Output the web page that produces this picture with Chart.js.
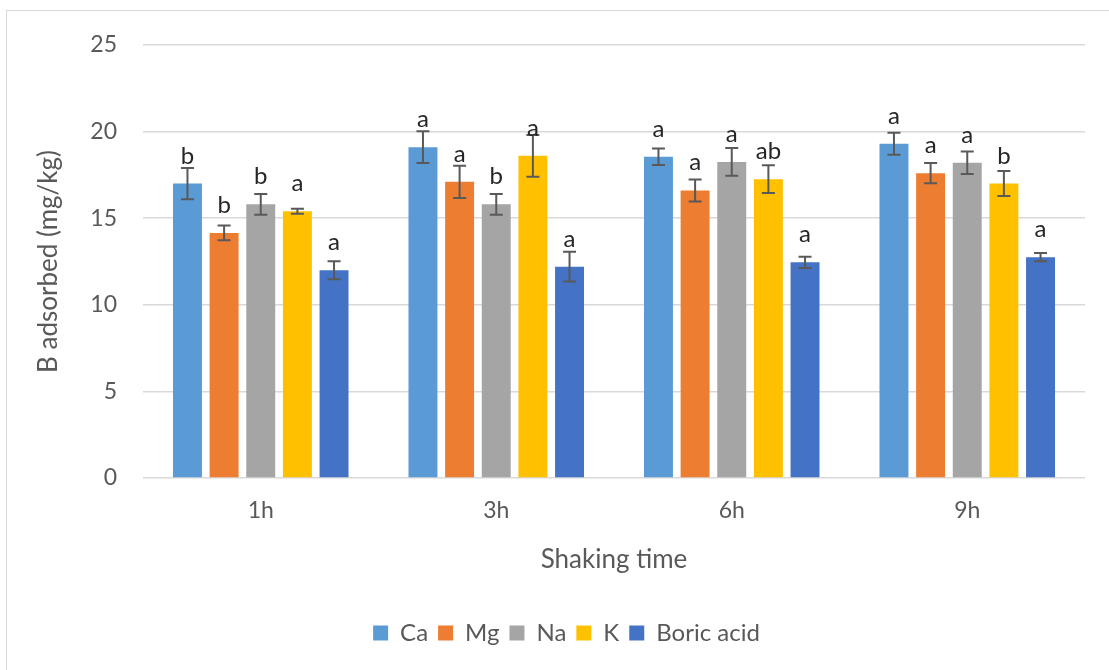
<!DOCTYPE html>
<html>
<head>
<meta charset="utf-8">
<script src="https://cdn.jsdelivr.net/npm/chart.js@4/dist/chart.umd.min.js"></script>
<style>
  html, body { margin: 0; padding: 0; background: #fff; overflow: hidden; }
  #wrap { position: relative; width: 1109px; height: 670px; }
  #frame {
    position: absolute; left: 6px; top: 10px; width: 1200px; height: 800px;
    border-left: 1.5px solid #d9d9d9; border-top: 1.5px solid #d9d9d9;
  }
  #chart { position: absolute; left: 0; top: 0; }
</style>
</head>
<body>
<div id="wrap">
  <div id="frame"></div>
  <canvas id="chart" width="1109" height="670"></canvas>
</div>
<script>
// ---- DATA ----
const TIMES = ['1h', '3h', '6h', '9h'];
const SERIES = ['Ca', 'Mg', 'Na', 'K', 'Boric acid'];
const COLORS = ['#5B9BD5', '#ED7D31', '#A5A5A5', '#FFC000', '#4472C4'];

const CA_VALUES = [17.0, 19.1, 18.55, 19.3];
const MG_VALUES = [14.15, 17.1, 16.6, 17.6];
const NA_VALUES = [15.8, 15.8, 18.25, 18.2];
const K_VALUES = [15.4, 18.6, 17.25, 17.0];
const BA_VALUES = [12.0, 12.2, 12.45, 12.75];

const CA_ERR = [0.9, 0.92, 0.48, 0.63];
const MG_ERR = [0.43, 0.93, 0.63, 0.58];
const NA_ERR = [0.6, 0.6, 0.8, 0.65];
const K_ERR = [0.15, 1.2, 0.8, 0.72];
const BA_ERR = [0.52, 0.86, 0.32, 0.24];

const CA_LETTERS = ['b', 'a', 'a', 'a'];
const MG_LETTERS = ['b', 'a', 'a', 'a'];
const NA_LETTERS = ['b', 'b', 'a', 'a'];
const K_LETTERS = ['a', 'a', 'ab', 'b'];
const BA_LETTERS = ['a', 'a', 'a', 'a'];

const Y_TICKS = [0, 5, 10, 15, 20, 25];

const VALUES = [CA_VALUES, MG_VALUES, NA_VALUES, K_VALUES, BA_VALUES];
const ERRORS = [CA_ERR, MG_ERR, NA_ERR, K_ERR, BA_ERR];
const LETTERS = [CA_LETTERS, MG_LETTERS, NA_LETTERS, K_LETTERS, BA_LETTERS];

const FONT = 'Lato, "Open Sans", sans-serif';
const TEXT = '#595959';

// ---- error bars + significance letters ----
const errorBarPlugin = {
  id: 'errorBars',
  afterDatasetsDraw(chart) {
    const c = chart.ctx;
    const y = chart.scales.y;
    c.save();
    chart.data.datasets.forEach((ds, i) => {
      const meta = chart.getDatasetMeta(i);
      meta.data.forEach((bar, j) => {
        const v = VALUES[i][j];
        const e = ERRORS[i][j];
        const top = y.getPixelForValue(v + e);
        const bot = y.getPixelForValue(v - e);
        c.strokeStyle = '#595959';
        c.lineWidth = 2;
        c.beginPath();
        c.moveTo(bar.x, top); c.lineTo(bar.x, bot);
        c.moveTo(bar.x - 6.5, top); c.lineTo(bar.x + 6.5, top);
        c.moveTo(bar.x - 6.5, bot); c.lineTo(bar.x + 6.5, bot);
        c.stroke();
      });
    });
    chart.data.datasets.forEach((ds, i) => {
      const meta = chart.getDatasetMeta(i);
      meta.data.forEach((bar, j) => {
        c.font = '24px ' + FONT;
        c.fillStyle = '#262626';
        c.textAlign = 'center';
        c.textBaseline = 'alphabetic';
        c.fillText(LETTERS[i][j], bar.x, bar.y - 20);
      });
    });
    c.restore();
  },
};

// legend sits centred on the whole frame, not on the padded box
const legendShift = {
  id: 'legendShift',
  afterLayout(chart) {
    if (!chart.legend) return;
    chart.legend.left += 24;
    chart.legend.right += 24;
  },
};

new Chart(document.getElementById('chart'), {
  type: 'bar',
  data: {
    labels: TIMES,
    datasets: SERIES.map((name, i) => ({
      label: name,
      data: VALUES[i],
      backgroundColor: COLORS[i],
      borderWidth: 0,
      categoryPercentage: 0.778,
      barPercentage: 0.79,
    })),
  },
  options: {
    responsive: false,
    animation: false,
    layout: { padding: { left: 0, right: 24, top: 45, bottom: 15 } },
    plugins: {
      tooltip: { enabled: false },
      legend: {
        position: 'bottom',
        labels: {
          color: TEXT,
          font: { family: FONT, size: 24 },
          boxWidth: 15,
          boxHeight: 15,
          padding: 10,
        },
      },
    },
    scales: {
      x: {
        grid: { display: false },
        border: { display: false },
        ticks: { color: TEXT, font: { family: FONT, size: 23 }, padding: 11 },
        title: {
          display: true,
          text: 'Shaking time',
          color: TEXT,
          font: { family: FONT, size: 26 },
          padding: { top: 0, bottom: 36 },
        },
        afterFit(s) { s.height = 133; },
      },
      y: {
        min: 0,
        max: 25,
        afterBuildTicks(s) { s.ticks = Y_TICKS.map(v => ({ value: v })); },
        grid: { color: '#d9d9d9', lineWidth: 1.5, drawTicks: false },
        border: { display: false },
        ticks: { color: TEXT, font: { family: FONT, size: 23 }, padding: 26 },
        title: {
          display: true,
          text: 'B adsorbed (mg/kg)',
          color: TEXT,
          font: { family: FONT, size: 26 },
          padding: { top: 33, bottom: 0 },
        },
        afterFit(s) { s.width = 143; },
      },
    },
  },
  plugins: [errorBarPlugin, legendShift],
});
</script>
</body>
</html>
